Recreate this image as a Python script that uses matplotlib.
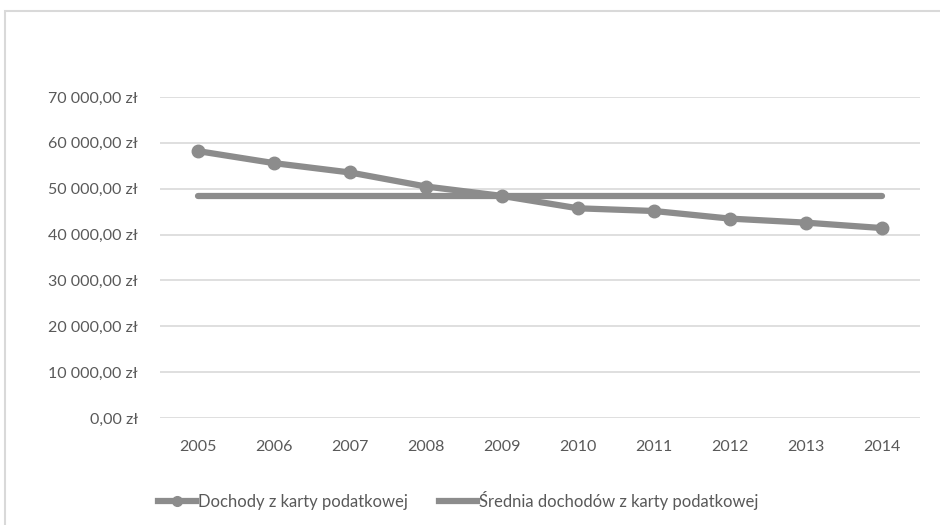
import matplotlib
matplotlib.use('Agg')
import matplotlib.pyplot as plt
from matplotlib.patches import Rectangle
from matplotlib.lines import Line2D
from matplotlib.ticker import FuncFormatter

years = ['2005', '2006', '2007', '2008', '2009', '2010', '2011', '2012', '2013', '2014']
income = [58200, 55580, 53540, 50480, 48430, 45730, 45140, 43480, 42600, 41420]
average = [48460] * 10

plt.rcParams['font.family'] = ['Lato', 'DejaVu Sans']

grey = '#8c8c8c'
text_col = '#595959'

fig = plt.figure(figsize=(9.4, 5.25), dpi=100)
fig.patches.append(Rectangle((5 / 940, -0.1), 1.2, (525 - 11) / 525 + 0.1,
                             transform=fig.transFigure, fill=False,
                             edgecolor='#d9d9d9', linewidth=1.5))

ax = fig.add_axes([160 / 940, 107 / 525, 760 / 940, 321 / 525])
x = range(len(years))
ax.plot(x, income, color=grey, linewidth=4.5, marker='o', markersize=9,
        solid_capstyle='round', clip_on=False, zorder=3)
ax.plot(x, average, color=grey, linewidth=4.5, solid_capstyle='round', zorder=2)

ax.set_xlim(-0.5, len(years) - 0.5)
ax.set_ylim(0, 70000)
ax.set_yticks(range(0, 70001, 10000))
ax.yaxis.set_major_formatter(FuncFormatter(
    lambda v, p: '{:,.2f} zł'.format(v).replace(',', ' ').replace('.', ',')))
ax.set_xticks(list(x))
ax.set_xticklabels(years)
ax.grid(axis='y', color='#d9d9d9', linewidth=1.2)
ax.set_axisbelow(True)
for s in ax.spines.values():
    s.set_visible(False)
ax.tick_params(length=0, labelsize=11.5, labelcolor=text_col)
ax.tick_params(axis='y', pad=16)
ax.tick_params(axis='x', pad=16)

handles = [Line2D([], [], color=grey, linewidth=4.5, marker='o', markersize=7),
           Line2D([], [], color=grey, linewidth=4.5)]
fig.legend(handles, ['Dochody z karty podatkowej', 'Średnia dochodów z karty podatkowej'],
           loc='center', bbox_to_anchor=(458 / 940, 25 / 525), ncol=2, frameon=False,
           fontsize=12, labelcolor=text_col, handlelength=2.3, handletextpad=0.1,
           columnspacing=1.9)

plt.savefig('out.png', dpi=100)
